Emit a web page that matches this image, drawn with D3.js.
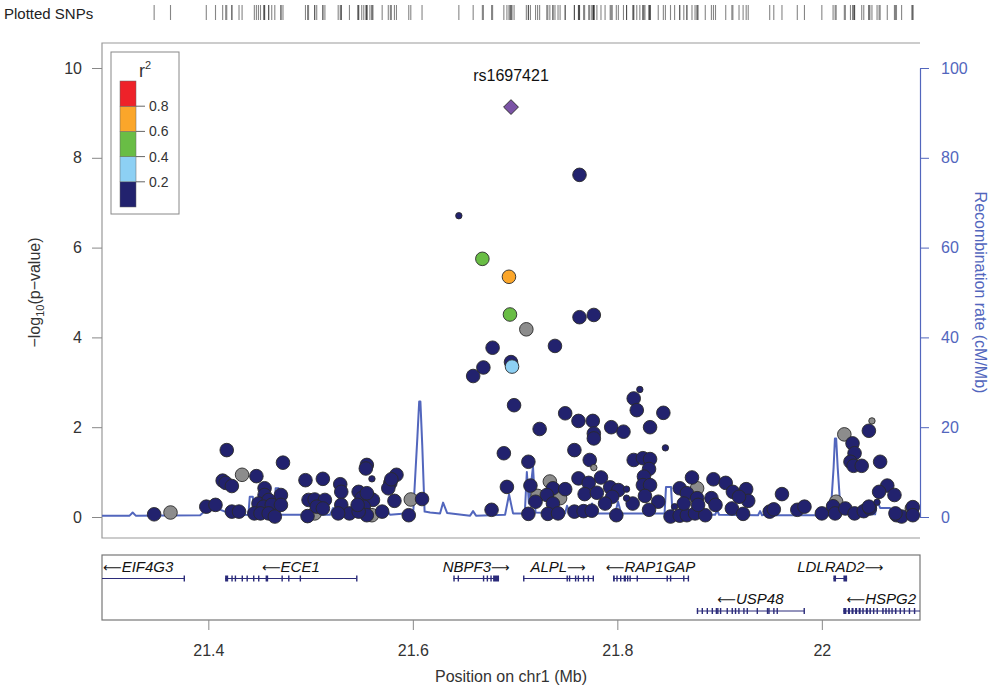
<!DOCTYPE html>
<html>
<head>
<meta charset="utf-8">
<script src="https://cdn.jsdelivr.net/npm/d3@7"></script>
<style>
  body { margin: 0; background: #fff; }
  svg { font-family: "Liberation Sans", Arial, sans-serif; }
</style>
</head>
<body>
<div id="chart"></div>
<script>
// regional association data, chr1 (Mb, -log10 p, r2 to lead SNP; null = no LD info)
const leadSnp = ['rs1697421', 21.696, 9.13];

const snpsTyped = [
  [21.347,0.06,0.05],[21.363,0.10,null],[21.398,0.23,0.05],[21.407,0.27,0.05],[21.418,1.49,0.05],
  [21.414,0.81,0.05],[21.417,0.76,0.05],[21.423,0.69,0.05],[21.433,0.94,null],[21.447,0.91,0.05],
  [21.423,0.12,0.05],[21.430,0.12,0.05],[21.455,0.64,0.05],[21.455,0.49,0.05],[21.473,1.21,0.05],
  [21.471,0.49,0.05],[21.449,0.30,0.05],[21.459,0.38,0.05],[21.454,0.23,0.05],[21.462,0.27,0.05],
  [21.445,0.08,0.05],[21.451,0.08,0.05],[21.459,0.08,0.05],[21.465,0.01,0.05],[21.471,0.27,0.05],
  [21.495,0.82,0.05],[21.512,0.85,0.05],[21.498,0.38,0.05],[21.504,0.39,0.05],[21.514,0.38,0.05],
  [21.506,0.23,0.05],[21.512,0.19,0.05],[21.504,0.08,null],[21.497,0.02,0.05],[21.529,0.73,0.05],
  [21.530,0.56,0.05],[21.530,0.27,0.05],[21.538,0.08,0.05],[21.547,0.56,0.05],[21.550,0.42,0.05],
  [21.555,1.16,0.05],[21.554,1.08,0.05],[21.558,0.42,0.05],[21.561,0.38,0.05],[21.552,0.23,0.05],
  [21.555,0.04,0.05],[21.560,0.04,null],[21.547,0.12,0.05],[21.570,0.12,0.05],[21.582,0.36,0.05],
  [21.578,0.76,0.05],[21.576,0.64,0.05],[21.584,0.94,0.05],[21.579,0.84,0.05],[21.596,0.04,0.05],
  [21.598,0.39,null],[21.609,0.40,0.05],[21.527,0.08,0.05],[21.546,0.27,0.05],[21.555,0.53,0.05],
  [21.668,5.75,0.5],[21.694,5.35,0.7],[21.695,4.51,0.45],[21.711,4.18,null],[21.763,7.62,0.05],
  [21.763,4.45,0.05],[21.777,4.50,0.05],[21.678,3.77,0.05],[21.739,3.81,0.05],[21.696,3.45,0.05],
  [21.697,3.35,0.3],[21.669,3.33,0.05],[21.659,3.14,0.05],[21.816,2.64,0.05],[21.699,2.49,0.05],
  [21.819,2.38,0.05],[21.749,2.31,0.05],[21.845,2.32,0.05],[21.762,2.14,0.05],[21.776,2.14,0.05],
  [21.724,1.96,0.05],[21.794,2.00,0.05],[21.806,1.90,0.05],[21.832,2.00,0.05],[21.777,1.86,0.05],
  [21.777,1.75,0.05],[21.689,1.42,0.05],[21.758,1.49,0.05],[21.713,1.23,0.05],[21.773,1.27,0.05],
  [21.816,1.27,0.05],[21.825,1.31,0.05],[21.832,1.29,0.05],[21.831,1.07,0.05],[21.826,0.90,0.05],
  [21.825,0.71,0.05],[21.832,0.71,0.05],[21.762,0.86,0.05],[21.784,0.88,0.05],[21.772,0.76,0.05],
  [21.692,0.67,0.05],[21.715,0.70,0.05],[21.734,0.79,null],[21.737,0.64,0.05],[21.749,0.62,0.05],
  [21.793,0.66,0.05],[21.801,0.60,0.05],[21.731,0.49,0.05],[21.744,0.42,null],[21.768,0.51,0.05],
  [21.780,0.54,0.05],[21.795,0.45,0.05],[21.827,0.47,0.05],[21.840,0.34,0.05],[21.720,0.34,0.05],
  [21.722,0.47,null],[21.737,0.30,0.05],[21.788,0.30,0.05],[21.815,0.30,0.05],[21.677,0.16,0.05],
  [21.713,0.07,0.05],[21.732,0.07,0.05],[21.742,0.08,0.05],[21.758,0.12,0.05],[21.767,0.13,0.05],
  [21.775,0.14,0.05],[21.799,0.04,0.05],[21.831,0.16,0.05],
  [21.852,0.01,0.05],[21.861,0.03,0.05],[21.873,0.88,0.05],[21.878,0.64,null],[21.861,0.64,0.05],
  [21.868,0.53,0.05],[21.878,0.42,0.05],[21.894,0.84,0.05],[21.892,0.42,0.05],[21.868,0.04,0.05],
  [21.876,0.08,0.05],[21.886,0.04,0.05],[21.896,0.27,0.05],[21.906,0.76,0.05],[21.913,0.56,0.05],
  [21.926,0.62,0.05],[21.928,0.36,0.05],[21.919,0.45,0.05],[21.912,0.19,0.05],[21.923,0.07,0.05],
  [21.879,0.27,0.05],[21.865,0.30,0.05],[21.961,0.51,0.05],[21.949,0.12,0.05],[21.953,0.17,0.05],
  [21.976,0.16,0.05],[21.983,0.23,0.05],[22.000,0.08,0.05],[22.014,0.34,null],[22.011,0.24,0.05],
  [22.013,0.08,0.05],[22.023,0.19,0.05],[22.032,0.08,0.05],[22.041,0.13,0.05],[22.047,0.19,0.05],
  [22.022,1.84,null],[22.030,1.64,0.05],[22.032,1.42,0.05],[22.028,1.23,0.05],[22.031,1.14,0.05],
  [22.039,1.14,0.05],[22.046,1.92,0.05],[22.057,1.23,0.05],[22.064,0.70,0.05],[22.056,0.56,0.05],
  [22.071,0.49,0.05],[22.073,0.04,0.05],[22.078,0.01,0.05],[22.088,0.19,null],[22.089,0.22,0.05],
  [22.089,0.04,0.05],[22.072,0.08,0.05],[22.046,0.23,0.05]
];

const snpsImputed = [
  [21.560,0.85,0.05],[21.645,6.71,0.05],[21.822,2.84,0.05],[21.847,1.54,0.05],[21.777,1.10,null],
  [21.809,0.62,0.05],[21.809,0.42,0.05],[21.856,0.23,0.05],[22.054,0.33,0.05],[22.049,2.14,null]
];

// recombination rate (Mb, cM/Mb)
const recombRate = [
  [21.296,0.3],[21.323,0.3],[21.326,1.0],[21.329,0.3],[21.392,0.4],[21.396,1.2],[21.4037,1.6],
  [21.4095,1.8],[21.4164,1.2],[21.4232,0.4],[21.4392,0.5],[21.4405,4.5],[21.4435,4.5],[21.4448,0.6],
  [21.4645,0.6],[21.4658,6.4],[21.4688,6.4],[21.4701,0.5],[21.519,0.5],[21.522,2.0],[21.5259,0.6],
  [21.5435,0.6],[21.5464,1.6],[21.5494,0.6],[21.5709,0.5],[21.5738,1.7],[21.5777,0.5],[21.5895,0.7],
  [21.6005,1.5],[21.6045,18],[21.6062,25.7],[21.6074,25.7],[21.6092,16],[21.6115,1.2],[21.6169,1.0],
  [21.6266,0.8],[21.6296,3.2],[21.6335,0.9],[21.656,0.3],[21.6589,1.3],[21.6618,0.3],[21.6902,0.5],
  [21.6941,5.0],[21.698,0.8],[21.7095,0.8],[21.7115,10.0],[21.7135,3.0],[21.7175,11.3],[21.7200,1.0],
  [21.7489,0.8],[21.7508,2.5],[21.7538,0.8],[21.7733,0.8],[21.7753,3.0],[21.7782,0.8],[21.7978,0.8],
  [21.8007,3.4],[21.8037,0.8],[21.8462,0.8],[21.8476,6.7],[21.8525,6.7],[21.8540,0.6],[21.8956,0.5],
  [21.8976,1.5],[21.8995,0.5],[21.9376,0.4],[21.9396,1.3],[21.9415,0.4],[21.9455,0.6],[21.9474,0.4],
  [22.0085,0.4],[22.0115,11],[22.0128,17.5],[22.0140,17.5],[22.0155,11],[22.0185,0.8],[22.0521,0.6],
  [22.054,3.8],[22.057,2.0],[22.0667,2.0],[22.0696,0.4],[22.096,0.4]
];

// genes in the region
const geneNames   = ['EIF4G3', 'ECE1', 'NBPF3', 'ALPL', 'RAP1GAP', 'LDLRAD2', 'USP48', 'HSPG2'];
const geneStarts  = [21.15, 21.4164, 21.6396, 21.7078, 21.7958, 22.0113, 21.8777, 22.0208];
const geneEnds    = [21.3763, 21.545, 21.6843, 21.7763, 21.8692, 22.0247, 21.9826, 22.14];
const geneStrands = ['-', '-', '+', '+', '-', '+', '-', '-'];
const geneRows    = [0, 0, 0, 0, 0, 0, 1, 1];
const geneExons = [
  [[21.3758,21.3763]],
  [[21.4164,21.4194],[21.4225,21.4232],[21.4258,21.4265],[21.4325,21.4335],[21.4373,21.438],
   [21.4437,21.4443],[21.4486,21.4492],[21.456,21.4585],[21.4715,21.4721],[21.478,21.4786],
   [21.4893,21.4903],[21.5445,21.545]],
  [[21.6396,21.6401],[21.6438,21.6443],[21.6685,21.669],[21.6722,21.6728],[21.6758,21.6768],
   [21.6785,21.6843]],
  [[21.7078,21.7083],[21.7503,21.7508],[21.7526,21.7531],[21.7585,21.759],[21.7612,21.7618],
   [21.7663,21.7668],[21.771,21.7716],[21.7758,21.7765]],
  [[21.7958,21.7975],[21.799,21.7998],[21.8026,21.8032],[21.8062,21.8084],[21.8094,21.8100],
   [21.8118,21.8124],[21.8188,21.8192],[21.8481,21.8487],[21.8514,21.852],[21.8643,21.8648],
   [21.8688,21.8692]],
  [[22.0113,22.0139],[22.0211,22.0247]],
  [[21.8777,21.8783],[21.8824,21.883],[21.8873,21.8878],[21.8922,21.8927],[21.8962,21.8968],
   [21.8976,21.8981],[21.9003,21.9008],[21.9068,21.9073],[21.9117,21.9122],[21.9149,21.9154],
   [21.9182,21.9187],[21.9231,21.9236],[21.9264,21.9269],[21.9362,21.9367],[21.9462,21.9468],
   [21.9476,21.9484],[21.9524,21.9529],[21.9557,21.9562],[21.9821,21.9826]],
  [[22.021,22.024],[22.0255,22.0275],[22.029,22.031],[22.0325,22.0345],[22.036,22.038],
   [22.0395,22.041],[22.043,22.045],[22.0465,22.048],[22.050,22.051],[22.0535,22.0545],
   [22.059,22.0605],[22.062,22.0635],[22.065,22.066],[22.068,22.069],[22.0715,22.073],
   [22.076,22.077],[22.080,22.081],[22.085,22.086],[22.090,22.091]]
];

// axis ticks and legend
const xTicks = [21.4, 21.6, 21.8, 22];
const pTicks = [0, 2, 4, 6, 8, 10];
const recombTicks = [0, 20, 40, 60, 80, 100];
const r2Breaks = [0.2, 0.4, 0.6, 0.8];
const r2Colors = ['#22226e', '#8dd0f4', '#69bd45', '#fba62a', '#ee2229'];
const noLdColor = '#8c8c8c';
const leadColor = '#7b53a6';
const recombColor = '#5266bd';

const W = 992, H = 692;
const plot = { left: 102, right: 920, top: 43, bottom: 538 };
const genePanel = { top: 555, bottom: 620 };

const svg = d3.select('#chart').append('svg').attr('width', W).attr('height', H);

const x = d3.scaleLinear().domain([21.296, 22.096]).range([plot.left, plot.right]);
const y = d3.scaleLinear().domain([0, 10]).range([517, 68]);
const yRecomb = d3.scaleLinear().domain([0, 100]).range([517, 68]);
const ldColor = d3.scaleThreshold().domain(r2Breaks).range(r2Colors);

svg.append('defs').append('clipPath').attr('id', 'plotClip')
  .append('rect').attr('x', plot.left).attr('y', plot.top)
  .attr('width', plot.right - plot.left).attr('height', genePanel.bottom - plot.top);

// plotted SNPs rug
const allSnps = snpsTyped.map(d => ({ pos: d[0], p: d[1], r2: d[2], r: 6.8 }))
  .concat(snpsImputed.map(d => ({ pos: d[0], p: d[1], r2: d[2], r: 3.2 })));

svg.append('text').attr('x', 4).attr('y', 19).attr('font-size', 15).attr('fill', '#222')
  .text('Plotted SNPs');
svg.append('g').selectAll('line')
  .data(allSnps.concat([{ pos: leadSnp[1] }]))
  .enter().append('line')
  .attr('x1', d => x(d.pos)).attr('x2', d => x(d.pos))
  .attr('y1', 5).attr('y2', 20)
  .attr('stroke', '#222').attr('stroke-opacity', 0.55).attr('stroke-width', 1.1);

// frame
const frame = svg.append('g').attr('stroke', '#999').attr('stroke-width', 1.2).attr('fill', 'none');
frame.append('path').attr('d', `M${plot.right},${plot.top}H${plot.left}V${plot.bottom}H${plot.right}`);

// recombination line
svg.append('path')
  .datum(recombRate)
  .attr('clip-path', 'url(#plotClip)')
  .attr('fill', 'none')
  .attr('stroke', recombColor)
  .attr('stroke-width', 2)
  .attr('stroke-linejoin', 'round')
  .attr('d', d3.line().x(d => x(d[0])).y(d => yRecomb(d[1])));

// association points: no-LD first, then increasing r2, small markers last
const order = d => (d.r2 === null ? -1 : d.r2);
const sorted = allSnps.slice().sort((a, b) => (a.r < b.r) - (b.r < a.r) || order(a) - order(b));
svg.append('g').selectAll('circle')
  .data(sorted)
  .enter().append('circle')
  .attr('cx', d => x(d.pos))
  .attr('cy', d => y(d.p))
  .attr('r', d => d.r)
  .attr('fill', d => (d.r2 === null ? noLdColor : ldColor(d.r2)))
  .attr('stroke', '#2a2a2a')
  .attr('stroke-width', 0.9);

// lead SNP
svg.append('path')
  .attr('d', d3.symbol(d3.symbolSquare, 110)())
  .attr('transform', `translate(${x(leadSnp[1])},${y(leadSnp[2])}) rotate(45)`)
  .attr('fill', leadColor).attr('stroke', '#2a2a2a').attr('stroke-width', 0.9);
svg.append('text')
  .attr('x', x(leadSnp[1])).attr('y', 81)
  .attr('text-anchor', 'middle').attr('font-size', 16).attr('fill', '#111')
  .text(leadSnp[0]);

// left axis
const leftAxis = svg.append('g').attr('transform', `translate(${plot.left},0)`)
  .call(d3.axisLeft(y).tickValues(pTicks).tickSize(10).tickSizeOuter(0).tickPadding(10));
leftAxis.select('.domain').remove();
leftAxis.selectAll('line').attr('stroke', '#888');
leftAxis.selectAll('text').attr('font-size', 16).attr('fill', '#333')
  .attr('font-family', '"Liberation Sans", Arial, sans-serif');

const yTitle = svg.append('text')
  .attr('transform', `translate(40,${(y(0) + y(10)) / 2}) rotate(-90)`)
  .attr('text-anchor', 'middle').attr('font-size', 16).attr('fill', '#333');
yTitle.append('tspan').text('\u2212log');
yTitle.append('tspan').attr('font-size', 11).attr('dy', 4).text('10');
yTitle.append('tspan').attr('dy', -4).text('(p\u2212value)');

// right axis
const rightAxis = svg.append('g').attr('transform', `translate(${plot.right},0)`)
  .call(d3.axisRight(yRecomb).tickValues(recombTicks).tickSize(9).tickSizeOuter(0).tickPadding(12));
rightAxis.select('.domain').attr('stroke', recombColor).attr('stroke-width', 1.2);
rightAxis.selectAll('line').attr('stroke', recombColor);
rightAxis.selectAll('text').attr('font-size', 16).attr('fill', recombColor)
  .attr('font-family', '"Liberation Sans", Arial, sans-serif');
svg.append('text')
  .attr('transform', `translate(975,${(y(0) + y(10)) / 2}) rotate(90)`)
  .attr('text-anchor', 'middle').attr('font-size', 16).attr('fill', recombColor)
  .text('Recombination rate (cM/Mb)');

// r2 legend
const legY = d3.scaleLinear().domain([0, 1]).range([207, 81]);
const legend = svg.append('g');
legend.append('rect').attr('x', 111).attr('y', 52).attr('width', 68).attr('height', 162)
  .attr('fill', '#fff').attr('stroke', '#888');
const bins = [0].concat(r2Breaks).map((lo, i, a) => [lo, i < a.length - 1 ? a[i + 1] : 1]);
legend.selectAll('.cell').data(bins).enter().append('rect')
  .attr('x', 120).attr('width', 16)
  .attr('y', d => legY(d[1])).attr('height', d => legY(d[0]) - legY(d[1]))
  .attr('fill', (d, i) => r2Colors[i]).attr('stroke', '#666').attr('stroke-width', 0.5);
legend.selectAll('.tk').data(r2Breaks).enter().append('line')
  .attr('x1', 136).attr('x2', 145).attr('y1', d => legY(d)).attr('y2', d => legY(d))
  .attr('stroke', '#666');
legend.selectAll('.lb').data(r2Breaks).enter().append('text')
  .attr('x', 149).attr('y', d => legY(d)).attr('dy', '0.36em')
  .attr('font-size', 14).attr('fill', '#333').text(d => d);
const r2Title = legend.append('text').attr('x', 139).attr('y', 77).attr('font-size', 18).attr('fill', '#333');
r2Title.append('tspan').text('r');
r2Title.append('tspan').attr('font-size', 11).attr('dy', -8).text('2');

// gene panel
svg.append('rect').attr('x', plot.left).attr('y', genePanel.top)
  .attr('width', plot.right - plot.left).attr('height', genePanel.bottom - genePanel.top)
  .attr('fill', 'none').attr('stroke', '#777').attr('stroke-width', 1.2);

const rowY = [578.5, 611];
const genes = geneNames.map((name, i) => ({
  name, start: geneStarts[i], end: geneEnds[i], strand: geneStrands[i], row: geneRows[i], exons: geneExons[i]
}));
const geneG = svg.append('g').attr('clip-path', 'url(#plotClip)');
const gg = geneG.selectAll('g').data(genes).enter().append('g');
gg.append('line')
  .attr('x1', d => x(d.start)).attr('x2', d => x(d.end))
  .attr('y1', d => rowY[d.row]).attr('y2', d => rowY[d.row])
  .attr('stroke', '#2b2b7a').attr('stroke-width', 1);
gg.selectAll('rect').data(d => d.exons.map(e => ({ e, row: d.row }))).enter().append('rect')
  .attr('x', d => x(d.e[0]))
  .attr('width', d => Math.max(1.4, x(d.e[1]) - x(d.e[0])))
  .attr('y', d => rowY[d.row] - 3).attr('height', 6)
  .attr('fill', '#2b2b7a');

// gene labels: arrow shows strand, centred on the gene, kept inside the panel
const labels = svg.append('g').selectAll('text').data(genes).enter().append('text')
  .attr('font-size', 15).attr('fill', '#111')
  .attr('text-anchor', 'middle')
  .attr('y', d => rowY[d.row] - 7);
labels.each(function (d) {
  const t = d3.select(this);
  if (d.strand === '-') t.append('tspan').attr('font-family', 'DejaVu Sans').attr('font-size', 13).text('\u27F5');
  t.append('tspan').attr('font-style', 'italic').text(d.name);
  if (d.strand === '+') t.append('tspan').attr('font-family', 'DejaVu Sans').attr('font-size', 13).text('\u27F6');
  const w = this.getComputedTextLength();
  let c = (x(d.start) + x(d.end)) / 2;
  c = Math.max(plot.left + 1 + w / 2, Math.min(plot.right - 4 - w / 2, c));
  t.attr('x', c);
});

// x axis
const xAxis = svg.append('g').attr('transform', `translate(0,${genePanel.bottom})`)
  .call(d3.axisBottom(x).tickValues(xTicks).tickSize(10).tickSizeOuter(0).tickPadding(15)
    .tickFormat(d => String(+d.toFixed(1))));
xAxis.select('.domain').remove();
xAxis.selectAll('line').attr('stroke', '#888');
xAxis.selectAll('text').attr('font-size', 16).attr('fill', '#333')
  .attr('font-family', '"Liberation Sans", Arial, sans-serif');
svg.append('text')
  .attr('x', (plot.left + plot.right) / 2).attr('y', 682)
  .attr('text-anchor', 'middle').attr('font-size', 16).attr('fill', '#333')
  .text('Position on chr1 (Mb)');
</script>
</body>
</html>
